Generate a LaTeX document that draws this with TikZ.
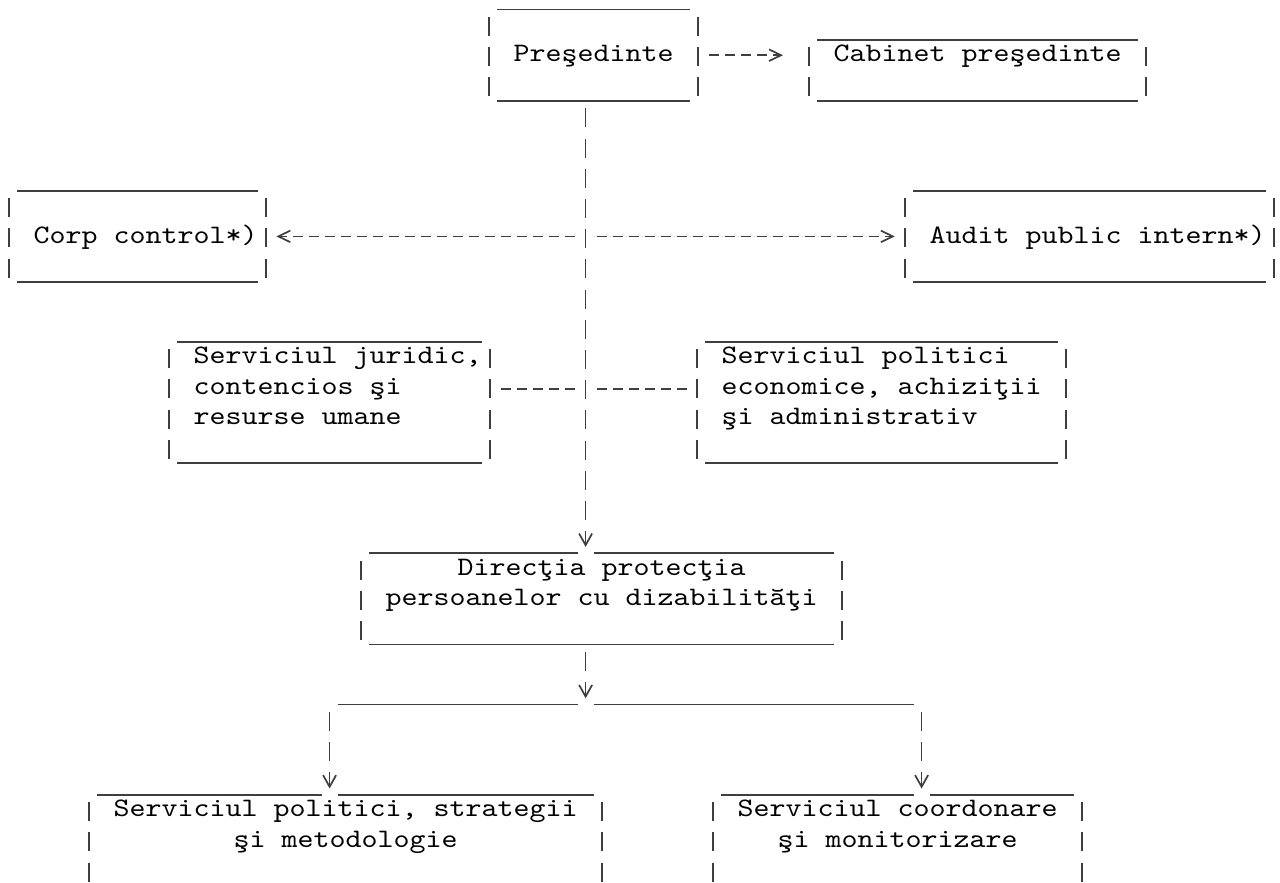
\documentclass[tikz,border=0pt]{standalone}
\usepackage{fontspec}
\newfontfamily\courierlike{lmmono10-regular.otf}[FakeStretch=1.1429]
\usepackage{tikz}
\usetikzlibrary{arrows.meta, calc}
\definecolor{asciiink}{RGB}{0, 0, 0}
\definecolor{asciiline}{RGB}{62, 62, 62}
\newcommand{\rowstrut}{\rule[-4.25pt]{0pt}{15.1pt}}
\newcommand{\padrow}{\rowstrut\hspace*{8pt}}

\begin{document}
\begin{tikzpicture}[x=8pt, y=-15.1pt,
  box/.style 2 args={font=\courierlike\fontsize{13.333pt}{15.1pt}\selectfont, text=asciiink,
    align=center, inner sep=0pt, minimum width=#1*8pt, minimum height=#2*15.1pt},
  rule/.style={draw=asciiline, line width=0.85pt},
  bars/.style={rule, dash pattern=on 9.5pt off 5.6pt, dash phase=11.35pt},
  dashes/.style={rule, dash pattern=on 5pt off 3pt, dash phase=6.5pt},
  tip/.style={-{Straight Barb[length=6pt, width=5.8pt]}},
  downtip/.style={-{Straight Barb[length=5.8pt, width=6.5pt]}}]
  \useasboundingbox (-0.1,0.109) rectangle (79.9,29.315);

  \node[box={13}{3}] (pres) at (37,1.937) {\rowstrut Preşedinte};
  \node[box={21}{2}] (cab) at (61,2.437) {\rowstrut Cabinet preşedinte\\\rowstrut};
  \node[box={16}{3}] (corp) at (8.5,7.937) {\padrow Corp control*)};
  \node[box={23}{3}] (audit) at (68,7.937) {\padrow Audit public intern*)};
  \node[box={20}{4}, align=left] (jur) at (20.5,13.437)
    {\padrow Serviciul juridic,\\\padrow contencios şi\\\padrow resurse umane\\\rowstrut};
  \node[box={23}{4}, align=left] (pol) at (55,13.437)
    {\rowstrut Serviciul politici\\\rowstrut economice, achiziţii\\\rowstrut şi administrativ\\\rowstrut};
  \node[box={30}{3}] (dir) at (37.5,19.937)
    {\rowstrut Direcţia protecţia\\\rowstrut persoanelor cu dizabilităţi\\\rowstrut};
  \node[box={32}{3}] (sps) at (21.5,27.937)
    {\rowstrut Serviciul politici, strategii\\\rowstrut şi metodologie\\\rowstrut};
  \node[box={23}{3}] (scm) at (56,27.937)
    {\rowstrut Serviciul coordonare\\\rowstrut şi monitorizare\\\rowstrut};

  \coordinate (top) at ([xshift=-4pt]pres.south);
  \coordinate (hub) at (36.5,13);
  \coordinate (fork) at (36.5,23.437);
  \coordinate (lfork) at (20.5,23.437);
  \coordinate (rfork) at (57.5,23.437);

  \foreach \nd in {pres,cab,corp,audit,jur,pol,dir,sps,scm} {
    \draw[bars] (\nd.north west) -- (\nd.south west);
    \draw[bars] (\nd.north east) -- (\nd.south east);
  }
  \foreach \nd in {pres,cab,corp,audit,jur,pol}
    \draw[rule] ([xshift=4pt]\nd.north west) -- ([xshift=-4pt]\nd.north east);
  \foreach \nd in {pres,cab,corp,audit,jur,pol,dir}
    \draw[rule] ([xshift=4pt]\nd.south west) -- ([xshift=-4pt]\nd.south east);
  \foreach \nd/\at in {dir/top,sps/lfork,scm/rfork} {
    \draw[rule] ([xshift=4pt]\nd.north west) -- ([xshift=-4pt]\at |- \nd.north);
    \draw[rule] ([xshift=4pt]\at |- \nd.north) -- ([xshift=-4pt]\nd.north east);
  }

  \draw[dashes, tip, shorten <=4pt, shorten >=13.1pt] (pres.east) -- (pres.east -| cab.west);
  \draw[bars, downtip, shorten >=3.1pt] (top) -- (top |- dir.north);
  \draw[dashes, tip, shorten <=4pt, shorten >=5.2pt] (top |- corp.east) -- (corp.east);
  \draw[dashes, tip, shorten <=4pt, shorten >=5.2pt] (top |- audit.west) -- (audit.west);
  \draw[dashes, shorten <=4pt, shorten >=4pt] (jur.east |- hub) -- (hub);
  \draw[dashes, shorten <=4pt, shorten >=4pt] (hub) -- (hub -| pol.west);
  \draw[bars, downtip, shorten >=3.1pt] (dir.south -| fork) -- (fork);
  \draw[rule] ([xshift=4pt]lfork) -- ([xshift=-4pt]fork);
  \draw[rule] ([xshift=4pt]fork) -- ([xshift=-4pt]rfork);
  \draw[bars, downtip, shorten >=3.1pt] (lfork) -- (lfork |- sps.north);
  \draw[bars, downtip, shorten >=3.1pt] (rfork) -- (rfork |- scm.north);
\end{tikzpicture}
\end{document}
